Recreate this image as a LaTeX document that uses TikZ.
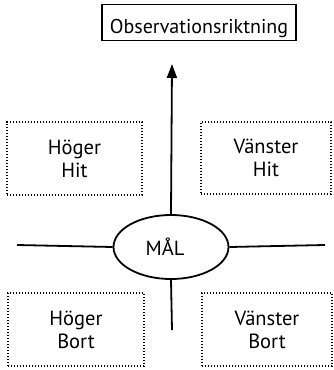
\documentclass[tikz,border=0pt]{standalone}
\usepackage{fontspec}
\setmainfont{PT Sans}
\usetikzlibrary{shapes.geometric,arrows.meta}

\tikzset{
    quadbox/.style={draw, line width=1.2pt, dash pattern=on 1.2pt off 1.8pt,
        align=center, font=\fontsize{20.5}{23}\selectfont},
    axis/.style={line width=1.8pt}
}

\begin{document}
\begin{tikzpicture}[x=1pt, y=-1pt]

    % Fix the page size
    \useasboundingbox (0,0) rectangle (334,370);

    % Observation direction box at the top
    \node[draw, line width=1.8pt, minimum width=194pt, minimum height=36pt,
        inner sep=0pt, font=\fontsize{20}{20}\selectfont]
        (obs) at (199,22.5) {\smash{\raisebox{-11pt}{Observationsriktning}}};

    % The target in the middle
    \node[ellipse, draw, line width=1.8pt, minimum width=115pt, minimum height=64pt,
        inner sep=0pt, font=\fontsize{20.5}{20}\selectfont]
        (mal) at (171,247) {\hspace*{-12pt}MÅL};

    % Free ends of the axes
    \coordinate (tip) at (172,64);
    \coordinate (L) at (17,245);
    \coordinate (R) at (325,245);
    \coordinate (D) at (172,330);

    % Draw the axes
    \draw[axis, -{Triangle[length=14pt, width=10pt]}] (mal.north) -- (tip);
    \draw[axis] (L) -- (mal.west);
    \draw[axis] (mal.east) -- (R);
    \draw[axis] (mal.south) -- (D);

    % The four quadrants
    \node[quadbox, minimum width=135pt, minimum height=73pt] (hh) at (74.5,158.5) {Höger\\Hit};
    \node[quadbox, minimum width=130pt, minimum height=72pt] (vh) at (266,158) {Vänster\\Hit};
    \node[quadbox, minimum width=136pt, minimum height=73pt] (hb) at (76,329.5) {Höger\\Bort};
    \node[quadbox, minimum width=130pt, minimum height=73pt] (vb) at (267,329.5) {Vänster\\Bort};

\end{tikzpicture}
\end{document}
